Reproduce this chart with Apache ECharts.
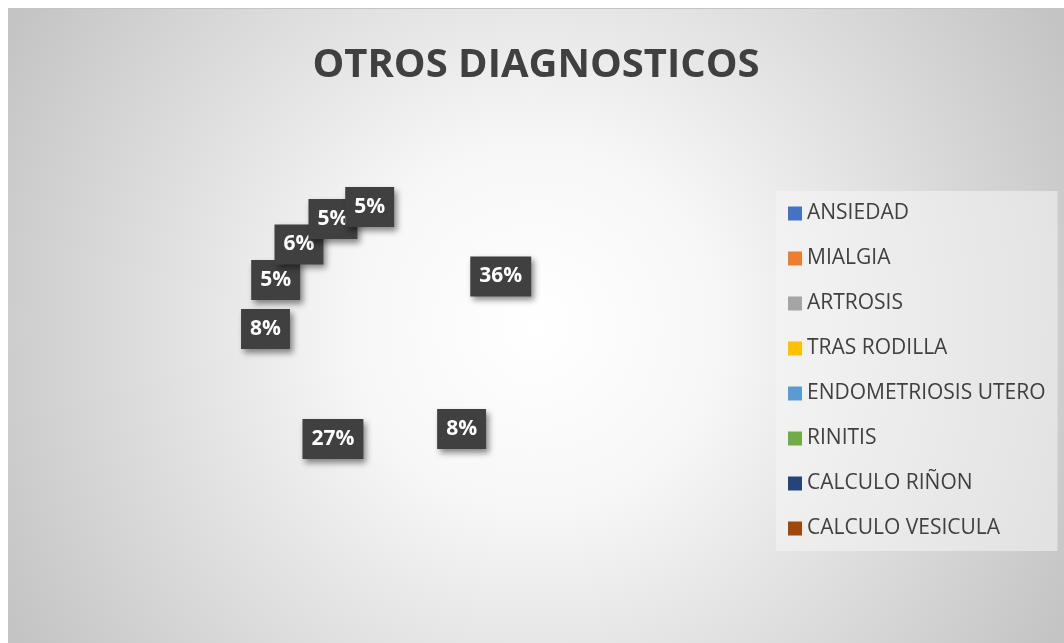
<!DOCTYPE html>
<html>
<head>
<meta charset="utf-8">
<script src="https://cdn.jsdelivr.net/npm/echarts@6/dist/echarts.min.js"></script>
<style>
  html, body { margin: 0; padding: 0; background: #fff; }
  #chart { position: absolute; left: 8px; top: 8px; width: 1056px; height: 635px; border-top: 1px solid #c4c4c4; }
</style>
</head>
<body>
<div id="chart"></div>
<script>
'use strict';
// categorias y porcentajes
var categorias = ['ANSIEDAD', 'MIALGIA', 'ARTROSIS', 'TRAS RODILLA', 'ENDOMETRIOSIS UTERO', 'RINITIS', 'CALCULO RIÑON', 'CALCULO VESICULA'];
var porcentajes = [36, 8, 27, 8, 5, 6, 5, 5];
var colores = ['#4472C4', '#ED7D31', '#A5A5A5', '#FFC000', '#5B9BD5', '#70AD47', '#264478', '#9E480E'];

var chart = echarts.init(document.getElementById('chart'));

var datos = categorias.map(function(nombre, i) {
	return {
		name: nombre,
		value: porcentajes[i],
		itemStyle: { color: 'rgba(0,0,0,0)' } // en la imagen las porciones no se ven
	};
});

var leyenda = categorias.map(function(nombre, i) {
	return { name: nombre, itemStyle: { color: colores[i] } };
});

var option = {
	backgroundColor: {
		type: 'radial', x: 0.5, y: 0.5, r: 0.95,
		colorStops: [
			{ offset: 0, color: '#ffffff' },
			{ offset: 0.3, color: '#f7f7f7' },
			{ offset: 1, color: '#c4c4c4' }
		]
	},
	animation: false,
	title: {
		text: 'OTROS DIAGNOSTICOS',
		left: 'center',
		top: 32,
		textStyle: { fontFamily: 'Open Sans', fontWeight: 'bold', fontSize: 40, color: '#404040' }
	},
	legend: {
		orient: 'vertical',
		left: 768,
		top: 182,
		data: leyenda,
		itemWidth: 14,
		itemHeight: 14,
		itemGap: 24,
		padding: [12, 12, 12, 12],
		backgroundColor: 'rgba(245,245,245,0.55)',
		icon: 'rect',
		textStyle: { fontFamily: 'Open Sans', fontSize: 21, lineHeight: 20, color: '#404040' }
	},
	series: [{
		type: 'pie',
		center: [381, 320],
		radius: 241,
		startAngle: 90,
		clockwise: true,
		data: datos,
		emphasis: { disabled: true },
		labelLayout: { hideOverlap: false },
		label: {
			show: true,
			position: 'inside',
			formatter: '{c}%',
			color: '#ffffff',
			fontFamily: 'Open Sans',
			fontWeight: 'bold',
			fontSize: 21,
			lineHeight: 22,
			backgroundColor: '#404040',
			padding: [12, 9, 6, 9],
			shadowColor: 'rgba(0,0,0,0.45)',
			shadowBlur: 6,
			shadowOffsetX: 3,
			shadowOffsetY: 4
		},
		labelLine: { show: false }
	}]
};

chart.setOption(option);
window.addEventListener('resize', function() {
	chart && chart.resize();
});
</script>
</body>
</html>
